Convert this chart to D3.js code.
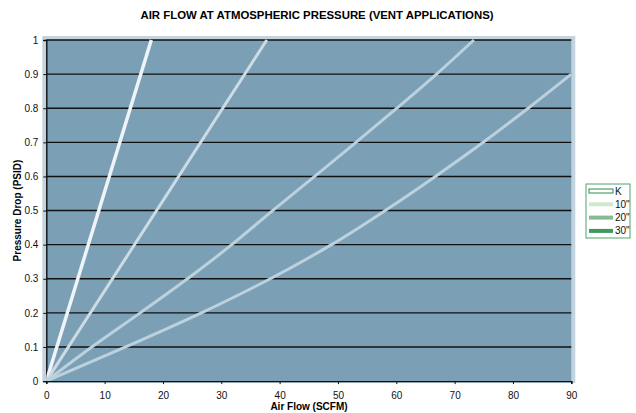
<!DOCTYPE html>
<html>
<head>
<meta charset="utf-8">
<script src="https://cdn.jsdelivr.net/npm/d3@7"></script>
<style>
  body { margin: 0; background: #fff; }
  text { font-family: "Liberation Sans", Arial, sans-serif; }
</style>
</head>
<body>
<div id="chart"></div>
<script>
// data
const seriesNames = ["K", "10\"", "20\"", "30\""];
const kFlow = [0, 18];
const kDrop = [0, 1];
const flow10 = [0, 37.8];
const drop10 = [0, 1];
const flow20 = [0, 7.8, 16.1, 24.2, 31.8, 38.8, 46.0, 53.1, 60.1, 66.9, 73.3];
const drop20 = [0, 0.1, 0.2, 0.3, 0.4, 0.5, 0.6, 0.7, 0.8, 0.9, 1.0];
const flow30 = [0, 13.6, 26.6, 38.4, 48.9, 58.1, 66.7, 74.9, 82.6, 90];
const drop30 = [0, 0.1, 0.2, 0.3, 0.4, 0.5, 0.6, 0.7, 0.8, 0.9];
const xTicks = [0, 10, 20, 30, 40, 50, 60, 70, 80, 90];
const yTicks = [0, 0.1, 0.2, 0.3, 0.4, 0.5, 0.6, 0.7, 0.8, 0.9, 1];

const W = 636, H = 413;
const m = {left: 46.3, right: 636 - 571.3, top: 40, bottom: 413 - 381.1};

const svg = d3.select('#chart').append('svg')
    .attr('width', W).attr('height', H);

const x = d3.scaleLinear().domain([0, 90]).range([m.left, W - m.right]);
const y = d3.scaleLinear().domain([0, 1]).range([H - m.bottom, m.top]);

// plot frame + background
svg.append('rect')
    .attr('x', x(0) - 4).attr('y', y(1) - 4)
    .attr('width', x(90) - x(0) + 8).attr('height', y(0) - y(1) + 6)
    .attr('fill', '#c3d4df');
svg.append('rect')
    .attr('x', x(0)).attr('y', y(1))
    .attr('width', x(90) - x(0)).attr('height', y(0) - y(1))
    .attr('fill', '#7b9fb5');

// grid lines
svg.append('g').selectAll('line')
    .data(yTicks.filter(d => d > 0))
    .join('line')
    .attr('x1', x(0)).attr('x2', x(90))
    .attr('y1', d => y(d)).attr('y2', d => y(d))
    .attr('stroke', '#111').attr('stroke-width', 1.4);

// axes
const xAxis = svg.append('g')
    .attr('transform', `translate(0,${y(0)})`)
    .call(d3.axisBottom(x).tickValues(xTicks).tickSize(3).tickPadding(8));
const yAxis = svg.append('g')
    .attr('transform', `translate(${x(0)},0)`)
    .call(d3.axisLeft(y).tickValues(yTicks).tickSize(3).tickPadding(5).tickFormat(d3.format('')));
[xAxis, yAxis].forEach(a => {
    a.select('.domain').attr('stroke', '#111').attr('stroke-width', 1.4);
    a.selectAll('.tick line').attr('stroke', '#111');
    a.selectAll('text').attr('font-size', 10).attr('fill', '#111')
        .attr('font-family', '"Liberation Sans", Arial, sans-serif');
});

// curves
const line = d3.line().x(d => x(d[0])).y(d => y(d[1])).curve(d3.curveMonotoneY);
const series = [
    {pts: d3.zip(kFlow, kDrop), color: '#eef4f9', w: 3.5},
    {pts: d3.zip(flow10, drop10), color: '#cddbe5', w: 3},
    {pts: d3.zip(flow20, drop20), color: '#bcd1de', w: 3},
    {pts: d3.zip(flow30, drop30), color: '#bcd1de', w: 3}
];
svg.append('clipPath').attr('id', 'pc').append('rect')
    .attr('x', x(0)).attr('y', y(1) - 2)
    .attr('width', x(90) - x(0) + 2).attr('height', y(0) - y(1) + 2);
svg.append('g').attr('clip-path', 'url(#pc)')
    .selectAll('path').data(series).join('path')
    .attr('d', d => line(d.pts))
    .attr('fill', 'none')
    .attr('stroke', d => d.color)
    .attr('stroke-width', d => d.w)
    .attr('stroke-linejoin', 'round');

// titles
svg.append('text')
    .attr('x', 317).attr('y', 19)
    .attr('text-anchor', 'middle')
    .attr('font-size', 11.4).attr('font-weight', 'bold')
    .text('AIR FLOW AT ATMOSPHERIC PRESSURE (VENT APPLICATIONS)');
svg.append('text')
    .attr('x', 309).attr('y', 410)
    .attr('text-anchor', 'middle')
    .attr('font-size', 10).attr('font-weight', 'bold')
    .text('Air Flow (SCFM)');
svg.append('text')
    .attr('transform', `translate(21,${y(0.5)}) rotate(-90)`)
    .attr('text-anchor', 'middle')
    .attr('font-size', 10).attr('font-weight', 'bold')
    .text('Pressure Drop (PSID)');

// legend
const leg = svg.append('g').attr('transform', 'translate(586,184)');
leg.append('rect')
    .attr('width', 44).attr('height', 54)
    .attr('fill', '#fff').attr('stroke', '#4fa36a').attr('stroke-width', 1);
const legStyle = [
    {fill: '#fff', stroke: '#2e8a4e'},
    {fill: '#cfe8cf', stroke: 'none'},
    {fill: '#85bb92', stroke: 'none'},
    {fill: '#3b9a5c', stroke: 'none'}
];
const items = leg.selectAll('g').data(seriesNames).join('g')
    .attr('transform', (d, i) => `translate(0,${7 + i * 13.3})`);
items.append('rect')
    .attr('x', 3).attr('y', -2).attr('width', 24).attr('height', 4)
    .attr('fill', (d, i) => legStyle[i].fill)
    .attr('stroke', (d, i) => legStyle[i].stroke)
    .attr('stroke-width', 1);
items.append('text')
    .attr('x', 29).attr('y', 3.5)
    .attr('font-size', 10).attr('fill', '#111')
    .text(d => d);
</script>
</body>
</html>
